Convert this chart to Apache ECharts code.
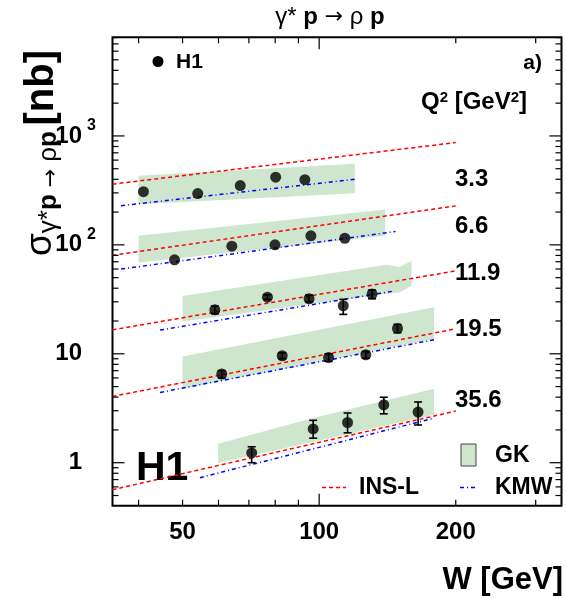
<!DOCTYPE html>
<html>
<head>
<meta charset="utf-8">
<script src="https://cdn.jsdelivr.net/npm/echarts@6/dist/echarts.min.js"></script>
<style>
  html, body { margin: 0; padding: 0; background: #fff; }
  #chart { width: 566px; height: 598px; }
</style>
</head>
<body>
<div id="chart"></div>
<script>
const FONT = '"Liberation Sans", Arial, sans-serif'

// Q2 bins [GeV^2]
const q2Labels = ['3.3', '6.6', '11.9', '19.5', '35.6']

// H1 data points: W [GeV], sigma [nb], error bounds
const h1W = [
  [41.0, 54.0, 67.0, 80.2, 93.0],
  [48.0, 64.2, 79.9, 95.9, 113.9],
  [58.9, 76.9, 95.0, 113.0, 130.8],
  [61.0, 82.9, 104.9, 126.7, 148.8],
  [71.0, 97.0, 115.5, 138.8, 165.2]
]
const h1Sigma = [
  [308, 296, 350, 418, 397],
  [72.9, 97.3, 100, 121, 115],
  [25.3, 33.1, 32.0, 27.6, 35.3],
  [6.51, 9.59, 9.26, 9.80, 17.1],
  [1.23, 2.04, 2.34, 3.40, 2.92]
]
// errors hidden behind the marker for the two lowest Q2 bins
const h1ErrLow = [
  [308, 296, 350, 418, 397],
  [72.9, 97.3, 100, 121, 115],
  [23.3, 31.5, 30.0, 23.0, 32.0],
  [6.0, 9.0, 8.5, 9.1, 15.6],
  [1.0, 1.68, 1.88, 2.81, 2.22]
]
const h1ErrHigh = [
  [308, 296, 350, 418, 397],
  [72.9, 97.3, 100, 121, 115],
  [27.4, 34.8, 34.5, 31.6, 38.5],
  [7.0, 10.2, 10.0, 10.5, 18.6],
  [1.4, 2.45, 2.86, 3.99, 3.61]
]

// GK model bands
const gkW = [
  [40.0, 119.8],
  [40.0, 139.8],
  [50.0, 140.8, 150.6, 159.8],
  [50.0, 179.2],
  [59.9, 97.0, 179.2]
]
const gkLow = [
  [236, 298],
  [68.8, 121],
  [19.8, 35.5, 36.8, 42.1],
  [4.77, 13.7],
  [0.994, 1.56, 2.757]
]
const gkHigh = [
  [432, 556],
  [121, 211],
  [34.0, 65.6, 62.5, 71.3],
  [9.45, 26.8],
  [1.494, 2.57, 4.77]
]

// INS-L (red dashed) end points
const inslW = [
  [35.04, 200],
  [35.04, 200],
  [35.04, 200],
  [35.04, 200],
  [35.04, 200]
]
const inslSigma = [
  [360.6, 870],
  [80.1, 228],
  [16.6, 57.7],
  [4.06, 16.97],
  [0.565, 2.98]
]

// KMW (blue dash-dot) end points
const kmwW = [
  [36.6, 120.4],
  [36.6, 147.3],
  [44.6, 146.8],
  [44.6, 179.2],
  [54.6, 179.2]
]
const kmwSigma = [
  [229, 401],
  [59.9, 132.5],
  [16.5, 37.8],
  [4.42, 13.45],
  [0.728, 2.57]
]

// axis ticks
const xTicksMajor = [100]
const xTicksMinor = [40, 50, 60, 70, 80, 90, 200, 300]
const xTickLabels = [50, 100, 200]
const yTicksMajor = [1, 10, 100, 1000]
const yTicksMinor = [0.5, 0.6, 0.7, 0.8, 0.9, 2, 3, 4, 5, 6, 7, 8, 9,
  20, 30, 40, 50, 60, 70, 80, 90, 200, 300, 400, 500, 600, 700, 800, 900,
  2000, 3000, 4000, 5000, 6000, 7000, 8000]
const yTickLabels = [1, 10, 100, 1000]
const yLabelBase = ['1', '10', '10', '10']
const yLabelSup = ['', '', '2', '3']

const GREEN = '#cde6cd'

function renderAxes (params, api) {
  if (params.dataIndex !== 0) return
  const cs = params.coordSys
  const left = cs.x
  const right = cs.x + cs.width
  const top = cs.y
  const bottom = cs.y + cs.height
  const children = []
  const seg = (x1, y1, x2, y2) => children.push({
    type: 'line',
    shape: { x1, y1, x2, y2 },
    style: { stroke: '#000', lineWidth: 1.2 }
  })
  xTicksMajor.concat(xTicksMinor).forEach(v => {
    const x = api.coord([v, 1])[0]
    const len = xTicksMajor.includes(v) ? 12 : 6
    seg(x, bottom, x, bottom - len)
    seg(x, top, x, top + len)
  })
  yTicksMajor.concat(yTicksMinor).forEach(v => {
    const y = api.coord([100, v])[1]
    const len = yTicksMajor.includes(v) ? 12 : 6
    seg(left, y, left + len, y)
    seg(right, y, right - len, y)
  })
  xTickLabels.forEach(v => {
    const x = api.coord([v, 1])[0]
    children.push({
      type: 'text',
      x: x,
      y: bottom + 27,
      style: { text: String(v), fontFamily: FONT, fontWeight: 'bold', fontSize: 24, fill: '#000', align: 'center', verticalAlign: 'middle' }
    })
  })
  yTickLabels.forEach((v, i) => {
    const y = api.coord([100, v])[1]
    children.push({
      type: 'text',
      x: 82,
      y: y,
      style: { text: yLabelBase[i], fontFamily: FONT, fontWeight: 'bold', fontSize: 24, fill: '#000', align: 'right', verticalAlign: 'middle' }
    })
    if (yLabelSup[i]) {
      children.push({
        type: 'text',
        x: 87,
        y: y - 10,
        style: { text: yLabelSup[i], fontFamily: FONT, fontWeight: 'bold', fontSize: 16, fill: '#000', align: 'left', verticalAlign: 'middle' }
      })
    }
  })
  return { type: 'group', children }
}

function bandSeries (i) {
  return {
    type: 'custom',
    name: 'GK',
    z: 1,
    data: gkW[i].map((w, j) => [w, gkLow[i][j], gkHigh[i][j]]),
    renderItem (params, api) {
      if (params.dataIndex !== 0) return
      const upper = gkW[i].map((w, j) => api.coord([w, gkHigh[i][j]]))
      const lower = gkW[i].map((w, j) => api.coord([w, gkLow[i][j]])).reverse()
      return {
        type: 'polygon',
        shape: { points: upper.concat(lower) },
        style: { fill: GREEN, stroke: null }
      }
    },
    silent: true
  }
}

function errorSeries (i) {
  return {
    type: 'custom',
    z: 4,
    data: h1W[i].map((w, j) => [w, h1Sigma[i][j], h1ErrLow[i][j], h1ErrHigh[i][j]]),
    renderItem (params, api) {
      if (api.value(2) === api.value(3)) return
      const lo = api.coord([api.value(0), api.value(2)])
      const hi = api.coord([api.value(0), api.value(3)])
      const st = { stroke: '#000', lineWidth: 1.6 }
      return {
        type: 'group',
        children: [
          { type: 'line', shape: { x1: lo[0], y1: lo[1], x2: hi[0], y2: hi[1] }, style: st },
          { type: 'line', shape: { x1: lo[0] - 4, y1: lo[1], x2: lo[0] + 4, y2: lo[1] }, style: st },
          { type: 'line', shape: { x1: hi[0] - 4, y1: hi[1], x2: hi[0] + 4, y2: hi[1] }, style: st }
        ]
      }
    },
    silent: true
  }
}

const series = []
q2Labels.forEach((q, i) => series.push(bandSeries(i)))
q2Labels.forEach((q, i) => {
  series.push({
    type: 'line',
    name: 'INS-L',
    z: 3,
    symbol: 'none',
    data: inslW[i].map((w, j) => [w, inslSigma[i][j]]),
    lineStyle: { color: '#ff0000', width: 1.5, type: [4, 3] },
    silent: true
  })
  series.push({
    type: 'line',
    name: 'KMW',
    z: 3,
    symbol: 'none',
    data: kmwW[i].map((w, j) => [w, kmwSigma[i][j]]),
    lineStyle: { color: '#0000ff', width: 1.5, type: [4, 3, 1, 3] },
    silent: true
  })
})
q2Labels.forEach((q, i) => series.push(errorSeries(i)))
q2Labels.forEach((q, i) => {
  series.push({
    type: 'scatter',
    name: 'H1',
    z: 5,
    symbol: 'circle',
    symbolSize: 11,
    itemStyle: { color: '#000' },
    data: h1W[i].map((w, j) => [w, h1Sigma[i][j]]),
    silent: true
  })
})
series.push({
  type: 'custom',
  z: 6,
  data: [[100, 10]],
  renderItem: renderAxes,
  silent: true
})

const q2LabelY = [179, 226, 273, 329, 400]

const txt = (text, x, y, size, align, extra) => Object.assign({
  type: 'text',
  x: x,
  y: y,
  style: {
    text: text, fontFamily: FONT, fontWeight: 'bold', fontSize: size,
    fill: '#000', align: align || 'left', verticalAlign: 'middle'
  }
}, extra || {})

const graphic = [
  {
    type: 'text',
    x: 330,
    y: 17,
    style: {
      text: '{g|γ*} {b|p} {a|→} {g|ρ} {b|p}',
      fontFamily: FONT,
      fontSize: 24,
      fill: '#000',
      align: 'center',
      verticalAlign: 'middle',
      rich: {
        g: { fontFamily: FONT, fontSize: 24, fontWeight: 'normal' },
        a: { fontFamily: '"DejaVu Sans", sans-serif', fontSize: 22, fontWeight: 'normal' },
        b: { fontFamily: FONT, fontSize: 24, fontWeight: 'bold' }
      }
    }
  },
  {
    type: 'text',
    x: 42,
    y: 153,
    rotation: Math.PI / 2,
    style: {
      text: '{s|σ}{r|γ*}{b|p}{a| → }{r|ρ}{b|p}{sp| }{nb|[nb]}',
      fill: '#000',
      align: 'center',
      verticalAlign: 'middle',
      rich: {
        s: { fontFamily: FONT, fontSize: 37, lineHeight: 40, verticalAlign: 'top' },
        r: { fontFamily: FONT, fontSize: 26, lineHeight: 26, verticalAlign: 'bottom' },
        a: { fontFamily: '"DejaVu Sans", sans-serif', fontSize: 22, lineHeight: 26, verticalAlign: 'bottom' },
        b: { fontFamily: FONT, fontSize: 26, fontWeight: 'bold', lineHeight: 26, verticalAlign: 'bottom' },
        sp: { fontFamily: FONT, fontSize: 20 },
        nb: { fontFamily: FONT, fontSize: 40, fontWeight: 'bold', lineHeight: 40, verticalAlign: 'top' }
      }
    }
  },
  { type: 'circle', shape: { cx: 158, cy: 61.5, r: 5.5 }, style: { fill: '#000' } },
  txt('H1', 176, 62, 21),
  txt('a)', 542, 63, 21, 'right'),
  {
    type: 'text',
    x: 527,
    y: 102,
    style: {
      text: 'Q{sup|2} [GeV{sup|2}]',
      fontFamily: FONT, fontWeight: 'bold', fontSize: 24, fill: '#000',
      align: 'right', verticalAlign: 'middle',
      rich: {
        sup: { fontFamily: FONT, fontWeight: 'bold', fontSize: 15, lineHeight: 14, verticalAlign: 'top' }
      }
    }
  },
  txt('H1', 136, 469, 41),
  { type: 'rect', shape: { x: 461, y: 444, width: 15, height: 22 }, style: { fill: GREEN, stroke: '#444', lineWidth: 1 } },
  txt('GK', 495, 456, 23),
  { type: 'line', shape: { x1: 322, y1: 487.5, x2: 346, y2: 487.5 }, style: { stroke: '#ff0000', lineWidth: 1.5, lineDash: [4, 3] } },
  txt('INS-L', 359, 488, 23),
  { type: 'line', shape: { x1: 460, y1: 487.5, x2: 476, y2: 487.5 }, style: { stroke: '#0000ff', lineWidth: 1.5, lineDash: [4, 3, 1, 3] } },
  txt('KMW', 495, 488, 23),
  txt('W [GeV]', 563, 580, 31, 'right')
]
q2Labels.forEach((q, i) => graphic.push(txt(q, 455, q2LabelY[i], 24)))

const chart = echarts.init(document.getElementById('chart'))
chart.setOption({
  animation: false,
  grid: {
    left: 112.5,
    top: 37.3,
    right: 4.5,
    bottom: 92.3,
    show: true,
    borderColor: '#000',
    borderWidth: 2,
    backgroundColor: 'transparent'
  },
  xAxis: {
    type: 'log',
    logBase: 10,
    min: 35.04,
    max: 342,
    axisLine: { show: false },
    axisTick: { show: false },
    axisLabel: { show: false },
    splitLine: { show: false }
  },
  yAxis: {
    type: 'log',
    logBase: 10,
    min: 0.403,
    max: 8045,
    axisLine: { show: false },
    axisTick: { show: false },
    axisLabel: { show: false },
    splitLine: { show: false }
  },
  series: series,
  graphic: graphic
})
</script>
</body>
</html>
